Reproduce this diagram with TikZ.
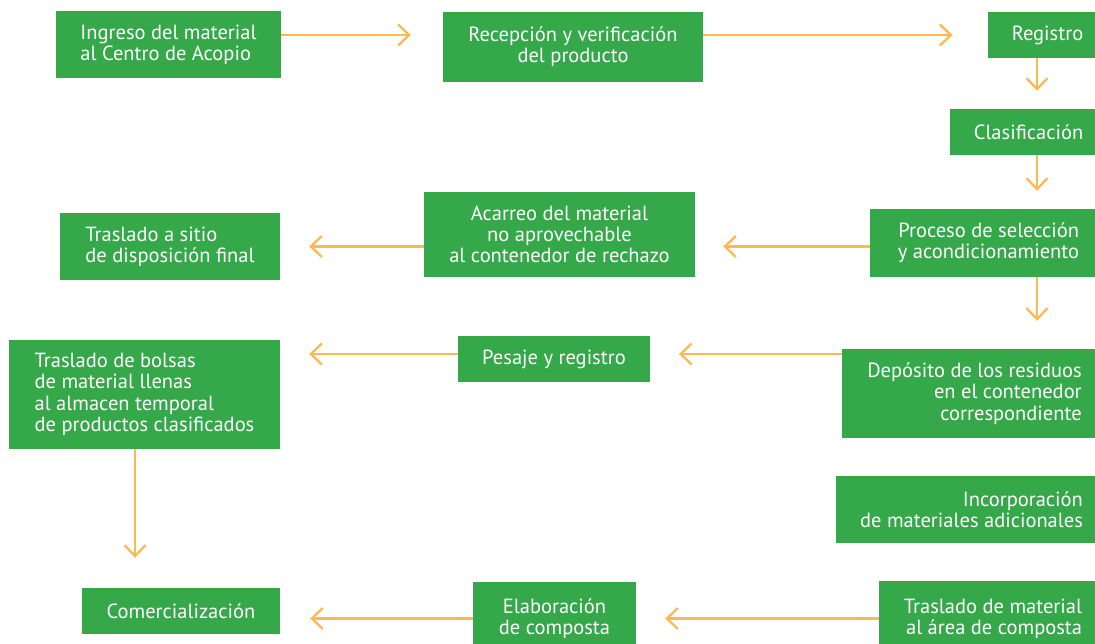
\documentclass[tikz,border=0pt]{standalone}
\usepackage{fontspec}
\setmainfont{PT Sans}
\usetikzlibrary{arrows.meta}
\definecolor{boxgreen}{HTML}{35A84A}
\definecolor{arrowyellow}{HTML}{FBB954}
\tikzset{
  box/.style={fill=boxgreen, text=white, inner xsep=24pt, inner ysep=0pt,
    font=\fontsize{20.5}{21.3}\selectfont},
  arr/.style={arrowyellow, line width=2.3pt,
    -{Straight Barb[length=11pt,width=21pt]}, shorten >=29pt},
}
\begin{document}
\begin{tikzpicture}[x=1pt, y=-1pt]
  \useasboundingbox (0,0) rectangle (1095,643);
  % top row
  \node[box, align=left, minimum width=225, minimum height=67] (ingreso) at (168.5,44.5) {Ingreso del material\\al Centro de Acopio};
  \node[box, align=center, minimum width=260, minimum height=70] (recepcion) at (573,47) {Recepción y verificación\\del producto};
  \node[box, align=right, minimum width=119, minimum height=46] (registro) at (1047.5,35) {Registro};
  \node[box, align=right, minimum width=157, minimum height=46] (clasif) at (1028.5,132) {Clasificación};
  % second row
  \node[box, align=right, minimum width=237, minimum height=68] (proceso) at (988.5,243) {Proceso de selección\\y acondicionamiento};
  \node[box, align=center, minimum width=271, minimum height=85] (acarreo) at (559.5,234.5) {Acarreo del material\\no aprovechable\\al contenedor de rechazo};
  \node[box, align=left, minimum width=220, minimum height=67] (sitio) at (170,246.5) {Traslado a sitio\\de disposición final};
  % third row
  \node[box, align=right, minimum width=265, minimum height=89] (deposito) at (974.5,393.5) {Depósito de los residuos\\en el contenedor\\correspondiente};
  \node[box, align=center, minimum width=190, minimum height=46] (pesaje) at (554,359) {Pesaje y registro};
  \node[box, align=left, minimum width=271, minimum height=109] (bolsas) at (144.5,394.5) {Traslado de bolsas\\de material llenas\\al almacen temporal\\de productos clasificados};
  \node[box, align=right, minimum width=271, minimum height=67] (incorp) at (971.5,509.5) {Incorporación\\de materiales adicionales};
  % bottom row
  \node[box, align=right, minimum width=228, minimum height=75] (area) at (993,618.5) {Traslado de material\\al área de composta};
  \node[box, align=center, minimum width=163, minimum height=74] (elabor) at (554.5,619) {Elaboración\\de composta};
  \node[box, align=center, minimum width=198, minimum height=46] (comerc) at (181,611) {Comercialización};

  \coordinate (colr) at (1037,0);
  \coordinate (coll) at (135,0);
  \coordinate (rowd) at (0,354);

  \draw[arr, shorten >=32pt] (ingreso.east |- registro) -- (recepcion.west |- registro);
  \draw[arr, shorten >=35pt] (recepcion.east |- registro) -- (registro.west);
  \draw[arr, shorten >=18pt] (registro.south -| colr) -- (clasif.north -| colr);
  \draw[arr, shorten >=18pt] (clasif.south -| colr) -- (proceso.north -| colr);
  \draw[arr, shorten >=28pt] (proceso.south -| colr) -- (deposito.north -| colr);
  \draw[arr, shorten >=28pt] (proceso.west |- sitio) -- (acarreo.east |- sitio);
  \draw[arr] (acarreo.west |- sitio) -- (sitio.east);
  \draw[arr] (deposito.west |- rowd) -- (pesaje.east |- rowd);
  \draw[arr] (pesaje.west |- rowd) -- (bolsas.east |- rowd);
  \draw[arr, shorten >=30pt] (bolsas.south -| coll) -- (comerc.north -| coll);
  \draw[arr] (area.west |- area) -- (elabor.east |- area);
  \draw[arr, shorten >=30pt] (elabor.west |- area) -- (comerc.east |- area);
\end{tikzpicture}
\end{document}
